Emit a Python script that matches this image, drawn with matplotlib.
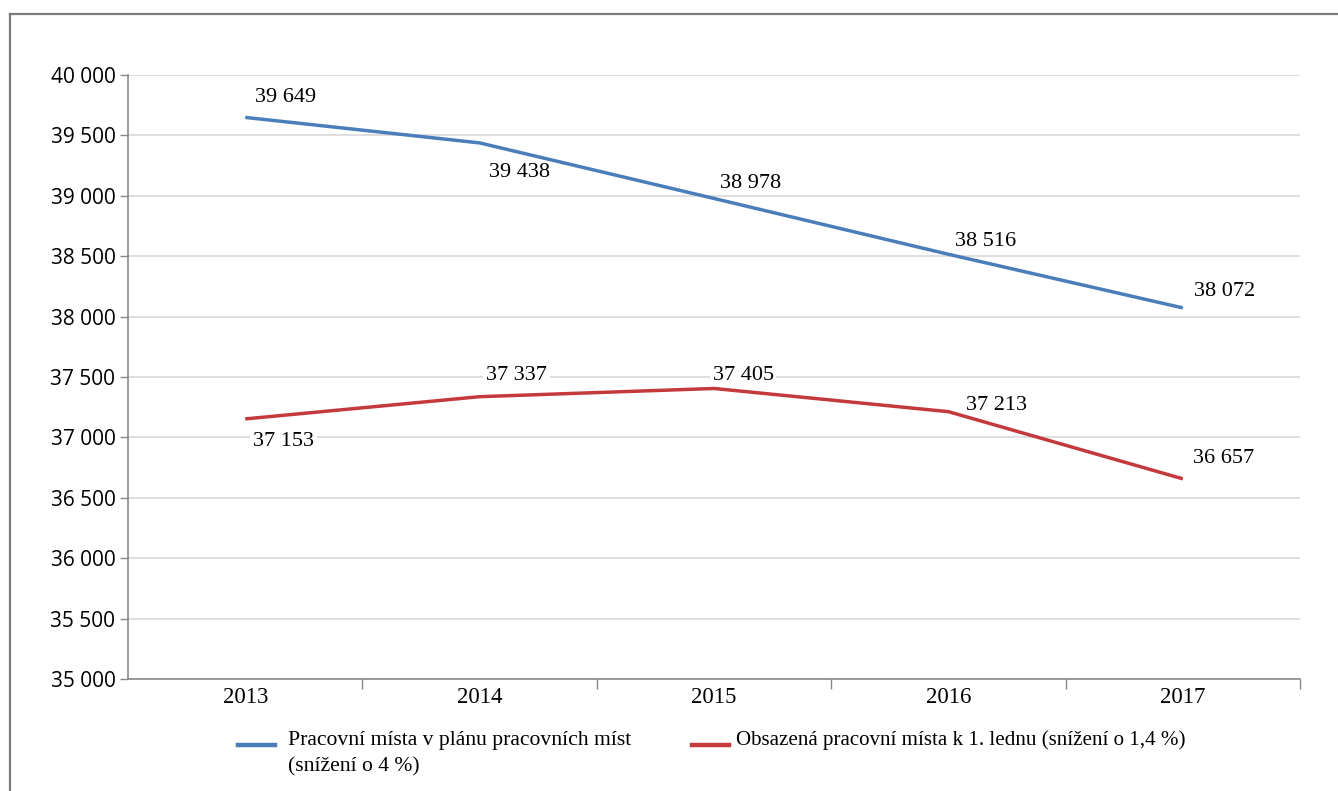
import matplotlib
matplotlib.use("Agg")
import matplotlib.pyplot as plt
from matplotlib.lines import Line2D
from matplotlib.ticker import FuncFormatter, FixedLocator

years = ["2013", "2014", "2015", "2016", "2017"]
planned = [39649, 39438, 38978, 38516, 38072]
occupied = [37153, 37337, 37405, 37213, 36657]
planned_label = ["Pracovní místa v plánu pracovních míst", "(snížení o 4 %)"]
occupied_label = "Obsazená pracovní místa k 1. lednu (snížení o 1,4 %)"

# label offsets (points) relative to each data point
planned_offsets = [(29, 14), (29, -21.5), (26, 11), (27, 9.5), (30, 11.5)]
occupied_offsets = [(27.5, -16), (26.5, 15), (21, 9.7), (34.5, 4.7), (29.5, 14.3)]

BLUE = "#4a7ebb"
RED = "#c43a3c"
SERIF = ["Liberation Serif", "DejaVu Serif"]
SANS = ["Open Sans", "DejaVu Sans"]
W, H = 1338, 791


def fmt(v):
    return f"{int(v):,}".replace(",", " ")


fig = plt.figure(figsize=(W / 100, H / 100), dpi=100)
ax = fig.add_axes([128 / W, 1 - 679 / H, 1172 / W, 604 / H])

x = list(range(len(years)))
ax.plot(x, planned, color=BLUE, lw=2.5, solid_capstyle="butt", zorder=3)
ax.plot(x, occupied, color=RED, lw=2.5, solid_capstyle="butt", zorder=3)

# value labels sit above the grid but beneath the lines
for series, offsets in ((planned, planned_offsets), (occupied, occupied_offsets)):
    for xi, v, off in zip(x, series, offsets):
        ax.annotate(fmt(v), (xi, v), xytext=off, textcoords="offset points",
                    ha="center", va="center", fontsize=16, family=SERIF,
                    bbox=dict(boxstyle="square,pad=0.12", fc="white", ec="none"),
                    zorder=2.5)

ax.set_xlim(-0.5, len(years) - 0.5)
ax.set_ylim(35000, 40000)
ax.set_yticks(range(35000, 40001, 500))
ax.yaxis.set_major_formatter(FuncFormatter(lambda v, p: fmt(v)))
ax.grid(axis="y", color="#d9d9d9", lw=1.2, zorder=1)
ax.set_axisbelow(True)

# category ticks: labels at centres, tick marks at boundaries
ax.xaxis.set_major_locator(FixedLocator([i + 0.5 for i in range(len(years))]))
ax.xaxis.set_minor_locator(FixedLocator(x))
ax.set_xticklabels([])
ax.set_xticklabels(years, minor=True, family=SERIF, fontsize=16.5)
ax.tick_params(axis="x", which="major", length=7, color="#888888", width=1)
ax.tick_params(axis="x", which="minor", length=0, pad=6)
ax.tick_params(axis="y", length=6, color="#888888", width=1, pad=3,
               labelsize=15)
for lab in ax.get_yticklabels():
    lab.set_family(SANS)

for s in ("top", "right"):
    ax.spines[s].set_visible(False)
for s in ("left", "bottom"):
    ax.spines[s].set_color("#8a8a8a")
    ax.spines[s].set_linewidth(1.2)

# legend, drawn in figure pixel coordinates
def fy(py):
    return 1 - py / H


fig.add_artist(Line2D([238 / W, 275 / W], [fy(745), fy(745)], color=BLUE,
                      lw=3.2, transform=fig.transFigure))
fig.text(288 / W, fy(740), planned_label[0], family=SERIF, fontsize=15.6,
         ha="left", va="center")
fig.text(288 / W, fy(767), planned_label[1], family=SERIF, fontsize=15.6,
         ha="left", va="center")
fig.add_artist(Line2D([692 / W, 729 / W], [fy(745), fy(745)], color=RED,
                      lw=3.2, transform=fig.transFigure))
fig.text(736 / W, fy(740), occupied_label, family=SERIF, fontsize=15.1,
         ha="left", va="center")

# outer frame lines (top and left)
fig.add_artist(Line2D([10 / W, 1], [fy(14), fy(14)],
                      transform=fig.transFigure, color="#7a7a7a", lw=1.6))
fig.add_artist(Line2D([10 / W, 10 / W], [0, fy(14)],
                      transform=fig.transFigure, color="#7a7a7a", lw=1.6))

fig.savefig("out.png", dpi=100)
